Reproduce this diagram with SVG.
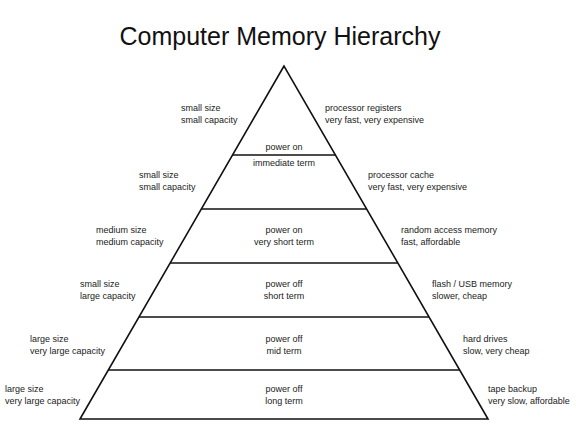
<svg xmlns="http://www.w3.org/2000/svg" width="576" height="426" viewBox="0 0 576 426">
<style>
text{font-family:"Liberation Sans",Arial,sans-serif;font-size:9px;fill:#222}
.c{text-anchor:middle}
.t{font-size:25px;fill:#111;text-anchor:middle}
.ln{stroke:#111;stroke-width:1.6;fill:none}
</style>
<rect width="576" height="426" fill="#fff"/>
<text class="t" x="280" y="45">Computer Memory Hierarchy</text>
<g id="connectors">
<polygon class="ln" points="284,66 80,419 488,419"/>
<line class="ln" x1="232.6" y1="155" x2="335.4" y2="155"/>
<line class="ln" x1="201.4" y1="209" x2="366.6" y2="209"/>
<line class="ln" x1="170.2" y1="263" x2="397.8" y2="263"/>
<line class="ln" x1="139" y1="317" x2="429" y2="317"/>
<line class="ln" x1="108.4" y1="370" x2="459.6" y2="370"/>
</g>
<g id="level1">
<text x="181" y="111">small size</text><text x="181" y="123">small capacity</text>
<text class="c" x="284" y="150">power on</text><text class="c" x="284" y="166">immediate term</text>
<text x="325" y="111">processor registers</text><text x="325" y="123">very fast, very expensive</text>
</g>
<g id="level2">
<text x="139" y="178">small size</text><text x="139" y="190">small capacity</text>
<text x="368" y="178">processor cache</text><text x="368" y="190">very fast, very expensive</text>
</g>
<g id="level3">
<text x="96" y="233">medium size</text><text x="96" y="245">medium capacity</text>
<text class="c" x="284" y="233">power on</text><text class="c" x="284" y="245">very short term</text>
<text x="401" y="233">random access memory</text><text x="401" y="245">fast, affordable</text>
</g>
<g id="level4">
<text x="80" y="287">small size</text><text x="80" y="299">large capacity</text>
<text class="c" x="284" y="287">power off</text><text class="c" x="284" y="299">short term</text>
<text x="432" y="287">flash / USB memory</text><text x="432" y="299">slower, cheap</text>
</g>
<g id="level5">
<text x="30" y="342">large size</text><text x="30" y="354">very large capacity</text>
<text class="c" x="284" y="342">power off</text><text class="c" x="284" y="354">mid term</text>
<text x="463" y="342">hard drives</text><text x="463" y="354">slow, very cheap</text>
</g>
<g id="level6">
<text x="5" y="392">large size</text><text x="5" y="404">very large capacity</text>
<text class="c" x="284" y="392">power off</text><text class="c" x="284" y="404">long term</text>
<text x="488" y="392">tape backup</text><text x="488" y="404">very slow, affordable</text>
</g>
</svg>
